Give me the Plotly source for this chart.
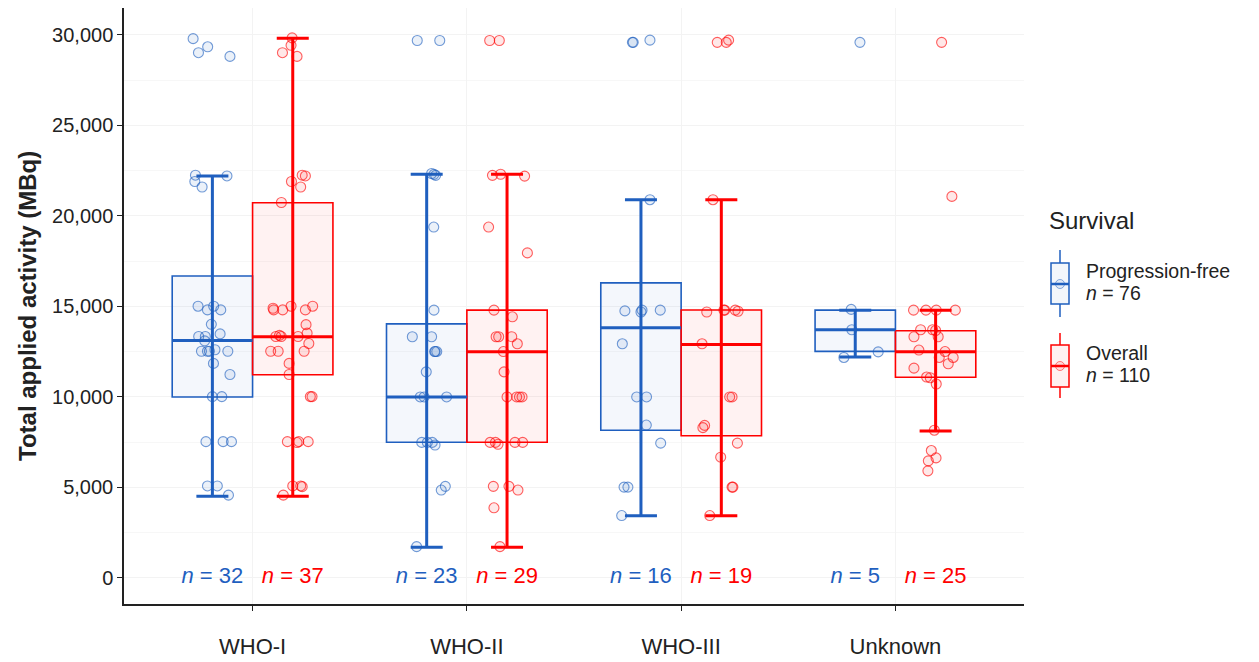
import plotly.graph_objects as go

# ---------------------------------------------------------------
# Data: total applied activity (MBq) by WHO grade and survival set
# ---------------------------------------------------------------
categories = ["WHO-I", "WHO-II", "WHO-III", "Unknown"]
series_names = ["Progression-free", "Overall"]

# Progression-free survival cohort: individual patients (value, horizontal jitter)
pfs_who1 = [29796, 29347, 29021, 28817, 22252, 22211, 21905, 21600, 15013, 15013,
            14809, 14809, 14014, 13341, 13341, 13484, 12526, 12526, 12607, 12526,
            11853, 11241, 10018, 10018, 7530, 7530, 7530, 5083, 5083, 4574,
            13100, 12526]
pfs_who1_jit = [-0.090, -0.022, -0.065, 0.082, -0.079, 0.068, -0.082, -0.048, -0.067, 0.006,
                -0.023, 0.039, -0.005, -0.064, -0.033, 0.036, -0.051, -0.014, 0.012, 0.072,
                0.005, 0.082, 0.000, 0.044, -0.030, 0.050, 0.089, -0.023, 0.023, 0.075,
                -0.036, -0.023]
pfs_who2 = [29694, 29694, 22346, 22244, 19387, 14795, 13325, 13325, 12508, 12508,
            11386, 10000, 10000, 7490, 7490, 7345, 5059, 4855, 1732, 22300,
            10000, 7490, 12508]
pfs_who2_jit = [-0.044, 0.061, 0.023, 0.042, 0.033, 0.034, -0.067, 0.023, 0.040, 0.047,
                -0.002, -0.030, 0.093, -0.023, 0.003, 0.039, 0.087, 0.068, -0.047, 0.034,
                -0.012, 0.026, 0.037]
pfs_who3 = [29592, 29592, 29714, 20897, 14754, 14693, 14795, 14795, 12937, 10000,
            10000, 8447, 7447, 5019, 5019, 3447]
pfs_who3_jit = [-0.040, -0.036, 0.042, 0.042, -0.075, 0.000, 0.005, 0.090, -0.087, -0.020,
                0.026, 0.025, 0.092, -0.079, -0.061, -0.090]
pfs_unknown = [29592, 14836, 13713, 12488, 12182]
pfs_unknown_jit = [0.022, -0.019, -0.016, 0.107, -0.053]

# Overall survival cohort
os_who1 = [29837, 29429, 29021, 28817, 22252, 22211, 21905, 21600, 20743, 14809,
           14809, 15013, 14809, 15013, 13994, 13525, 13341, 13341, 13341, 12954,
           12526, 12526, 12526, 11853, 11241, 10018, 10018, 7530, 7530, 7530,
           5083, 5083, 4574, 5043, 14900, 13400, 7480]
os_who1_jit = [-0.003, -0.008, -0.048, 0.020, 0.044, 0.059, -0.006, 0.037, -0.053, -0.089,
               -0.047, -0.008, 0.059, 0.093, 0.062, 0.067, -0.079, -0.054, 0.025, 0.075,
               -0.103, -0.068, 0.053, -0.017, -0.017, 0.082, 0.090, -0.025, 0.028, 0.072,
               0.000, 0.037, -0.044, 0.044, -0.092, -0.062, 0.020]
os_who2 = [29694, 29694, 22244, 22305, 22203, 19387, 17958, 14795, 14427, 13325,
           13325, 13325, 12937, 12508, 11386, 10000, 10000, 10000, 7490, 7386,
           7490, 7490, 5059, 5059, 4855, 3875, 1732, 7490, 10000]
os_who2_jit = [-0.081, -0.036, -0.068, -0.030, 0.082, -0.086, 0.095, -0.061, 0.025, -0.051,
               -0.039, 0.022, 0.048, -0.017, -0.014, 0.000, 0.045, 0.070, -0.079, -0.042,
               0.037, 0.073, -0.064, 0.009, 0.051, -0.061, -0.033, -0.054, 0.058]
os_who3 = [29592, 29592, 29714, 20897, 14693, 14795, 14795, 14734, 12937, 10000,
           10000, 8427, 8305, 7447, 6672, 5019, 5019, 3447, 14795]
os_who3_jit = [-0.019, 0.023, 0.034, -0.039, -0.068, 0.012, 0.065, 0.078, -0.090, 0.039,
               0.050, -0.078, -0.086, 0.075, -0.003, 0.050, 0.054, -0.054, 0.016]
os_unknown = [29592, 21081, 14795, 14795, 14795, 14795, 13713, 13713, 13672, 13325,
              13325, 12590, 12508, 12182, 12182, 11835, 11590, 11100, 11060, 10713,
              8162, 7039, 6631, 6468, 5917]
os_unknown_jit = [0.028, 0.076, -0.103, -0.045, 0.003, 0.092, -0.070, -0.014, 0.000, -0.101,
                  0.012, -0.078, 0.044, 0.017, 0.082, 0.059, -0.101, -0.042, -0.025, 0.003,
                  -0.006, -0.020, 0.002, -0.034, -0.036]

# Box-plot summaries (per category, same order as `categories`)
pfs_lower = [4520, 1690, 3440, 12210]
pfs_q1 = [10000, 7500, 8160, 12520]
pfs_median = [13120, 10000, 13820, 13710]
pfs_q3 = [16680, 14040, 16300, 14795]
pfs_upper = [22212, 22310, 20890, 14795]

os_lower = [4520, 1690, 3440, 8120]
os_q1 = [11230, 7500, 7860, 11090]
os_median = [13330, 12500, 12900, 12500]
os_q3 = [20730, 14795, 14800, 13660]
os_upper = [29820, 22310, 20890, 14795]

# ---------------------------------------------------------------
# Styling
# ---------------------------------------------------------------
FONT = "Liberation Sans, Arial, Helvetica, sans-serif"
BLUE = "#1F5FBF"
RED = "#FF0000"
GRID = "#F3F3F3"
AXIS = "#222222"

BOX_WIDTH = 0.375
DODGE = BOX_WIDTH / 2

groups = [
    dict(name=series_names[0], color=BLUE, rgb=(31, 95, 191), offset=-DODGE,
         values=[pfs_who1, pfs_who2, pfs_who3, pfs_unknown],
         jitter=[pfs_who1_jit, pfs_who2_jit, pfs_who3_jit, pfs_unknown_jit],
         lower=pfs_lower, q1=pfs_q1, median=pfs_median, q3=pfs_q3, upper=pfs_upper),
    dict(name=series_names[1], color=RED, rgb=(255, 0, 0), offset=DODGE,
         values=[os_who1, os_who2, os_who3, os_unknown],
         jitter=[os_who1_jit, os_who2_jit, os_who3_jit, os_unknown_jit],
         lower=os_lower, q1=os_q1, median=os_median, q3=os_q3, upper=os_upper),
]


def rgba(rgb, a):
    return "rgba(%d,%d,%d,%.3f)" % (rgb[0], rgb[1], rgb[2], a)


fig = go.Figure()
cat_pos = list(range(1, len(categories) + 1))

# Boxes (interquartile range only; whiskers drawn as error bars)
for g in groups:
    xs = [p + g["offset"] for p in cat_pos]
    fig.add_trace(go.Box(
        x=xs, q1=g["q1"], median=g["median"], q3=g["q3"],
        lowerfence=g["q1"], upperfence=g["q3"],
        width=BOX_WIDTH, whiskerwidth=0, boxpoints=False,
        fillcolor=rgba(g["rgb"], 0.05),
        line=dict(color=g["color"], width=1.6),
        showlegend=False, hoverinfo="skip",
    ))

# Whiskers with end caps
for g in groups:
    xs = [p + g["offset"] for p in cat_pos]
    mids = [(lo + hi) / 2 for lo, hi in zip(g["lower"], g["upper"])]
    half = [(hi - lo) / 2 for lo, hi in zip(g["lower"], g["upper"])]
    fig.add_trace(go.Scatter(
        x=xs, y=mids, mode="markers",
        marker=dict(size=1, color="rgba(0,0,0,0)"),
        error_y=dict(type="data", array=half, symmetric=True,
                     color=g["color"], thickness=3, width=16),
        showlegend=False, hoverinfo="skip",
    ))

# Thick median bars
for g in groups:
    xs = [p + g["offset"] for p in cat_pos]
    fig.add_trace(go.Scatter(
        x=xs, y=g["median"], mode="markers",
        marker=dict(size=1, color="rgba(0,0,0,0)"),
        error_x=dict(type="constant", value=BOX_WIDTH / 2,
                     color=g["color"], thickness=3, width=0),
        showlegend=False, hoverinfo="skip",
    ))

# Individual patients (jittered)
for g in groups:
    px_, py_ = [], []
    for p, vals, jit in zip(cat_pos, g["values"], g["jitter"]):
        for v, j in zip(vals, jit):
            px_.append(p + g["offset"] + j)
            py_.append(v)
    fig.add_trace(go.Scatter(
        x=px_, y=py_, mode="markers",
        marker=dict(size=10, color=rgba(g["rgb"], 0.09),
                    line=dict(color=rgba(g["rgb"], 0.62), width=1.1)),
        showlegend=False, hoverinfo="skip",
    ))

# Sample size labels at y = 0
for g in groups:
    xs = [p + g["offset"] for p in cat_pos]
    fig.add_trace(go.Scatter(
        x=xs, y=[0] * len(xs), mode="text",
        text=["<i>n</i> = %d" % len(v) for v in g["values"]],
        textposition="middle center",
        textfont=dict(family=FONT, size=22, color=g["color"]),
        showlegend=False, hoverinfo="skip",
    ))

# ---------------------------------------------------------------
# Layout
# ---------------------------------------------------------------
W, H = 1259, 662
ML, MR, MT, MB = 124, 235, 8, 58
PW, PH = W - ML - MR, H - MT - MB


def fx(px):
    return (px - ML) / PW


def fy(py):
    return (H - MB - py) / PH


fig.update_layout(
    width=W, height=H,
    margin=dict(l=ML, r=MR, t=MT, b=MB, pad=0, autoexpand=False),
    plot_bgcolor="white", paper_bgcolor="white",
    showlegend=False,
    font=dict(family=FONT, color=AXIS),
)

fig.update_xaxes(
    automargin=False,
    range=[0.4, 4.6], tickmode="array", tickvals=cat_pos, ticktext=categories,
    showgrid=True, gridcolor=GRID, gridwidth=1, zeroline=False,
    showline=True, linecolor=AXIS, linewidth=1.5,
    ticks="outside", ticklen=5, tickcolor=AXIS, tickwidth=1.3,
    tickfont=dict(family=FONT, size=22, color=AXIS),
    ticklabelstandoff=17,
)

fig.update_yaxes(
    automargin=False,
    range=[-1440, 31490], tickmode="linear", tick0=0, dtick=5000, tickformat=",",
    showgrid=True, gridcolor=GRID, gridwidth=1, zeroline=False,
    minor=dict(tickmode="linear", tick0=0, dtick=2500, showgrid=True,
               gridcolor="#F7F7F7", gridwidth=1, ticks=""),
    showline=True, linecolor=AXIS, linewidth=1.5,
    ticks="outside", ticklen=5, tickcolor=AXIS, tickwidth=1.3,
    tickfont=dict(family=FONT, size=20, color=AXIS),
)

annotations = [
    dict(text="<b>Total applied activity (MBq)</b>", textangle=-90,
         xref="paper", yref="paper", x=fx(27), y=0.5,
         xanchor="center", yanchor="middle", showarrow=False,
         font=dict(family=FONT, size=24, color=AXIS)),
    dict(text="Survival", xref="paper", yref="paper", x=fx(1047), y=fy(220),
         xanchor="left", yanchor="middle", showarrow=False,
         font=dict(family=FONT, size=24, color=AXIS)),
]

# Legend with box-plot keys
shapes = []
legend_rows = [
    (groups[0], 250, 317, 263, 304, 284, 271, 293),
    (groups[1], 333, 398, 345, 387, 366, 353, 375),
]
for g, wy0, wy1, by0, by1, my, ty0, ty1 in legend_rows:
    total = sum(len(v) for v in g["values"])
    kx, kx0, kx1 = 1060, 1051, 1069
    shapes.append(dict(type="line", xref="paper", yref="paper",
                       x0=fx(kx), x1=fx(kx), y0=fy(wy0), y1=fy(wy1),
                       line=dict(color=g["color"], width=1.5)))
    shapes.append(dict(type="rect", xref="paper", yref="paper",
                       x0=fx(kx0), x1=fx(kx1), y0=fy(by0), y1=fy(by1),
                       fillcolor="white", line=dict(color=g["color"], width=1.5)))
    shapes.append(dict(type="rect", xref="paper", yref="paper",
                       x0=fx(kx0), x1=fx(kx1), y0=fy(by0), y1=fy(by1),
                       fillcolor=rgba(g["rgb"], 0.06), line=dict(width=0)))
    shapes.append(dict(type="line", xref="paper", yref="paper",
                       x0=fx(kx0), x1=fx(kx1), y0=fy(my), y1=fy(my),
                       line=dict(color=g["color"], width=2.5)))
    shapes.append(dict(type="circle", xref="paper", yref="paper",
                       x0=fx(kx - 4.5), x1=fx(kx + 4.5), y0=fy(my - 4.5), y1=fy(my + 4.5),
                       fillcolor=rgba(g["rgb"], 0.09),
                       line=dict(color=rgba(g["rgb"], 0.5), width=1)))
    annotations.append(dict(text=g["name"], xref="paper", yref="paper",
                            x=fx(1084), y=fy(ty0), xanchor="left", yanchor="middle",
                            showarrow=False, font=dict(family=FONT, size=19.5, color=AXIS)))
    annotations.append(dict(text="<i>n</i> = %d" % total, xref="paper", yref="paper",
                            x=fx(1084), y=fy(ty1), xanchor="left", yanchor="middle",
                            showarrow=False, font=dict(family=FONT, size=19.5, color=AXIS)))

fig.update_layout(annotations=annotations, shapes=shapes)

fig.write_html("out.html")
